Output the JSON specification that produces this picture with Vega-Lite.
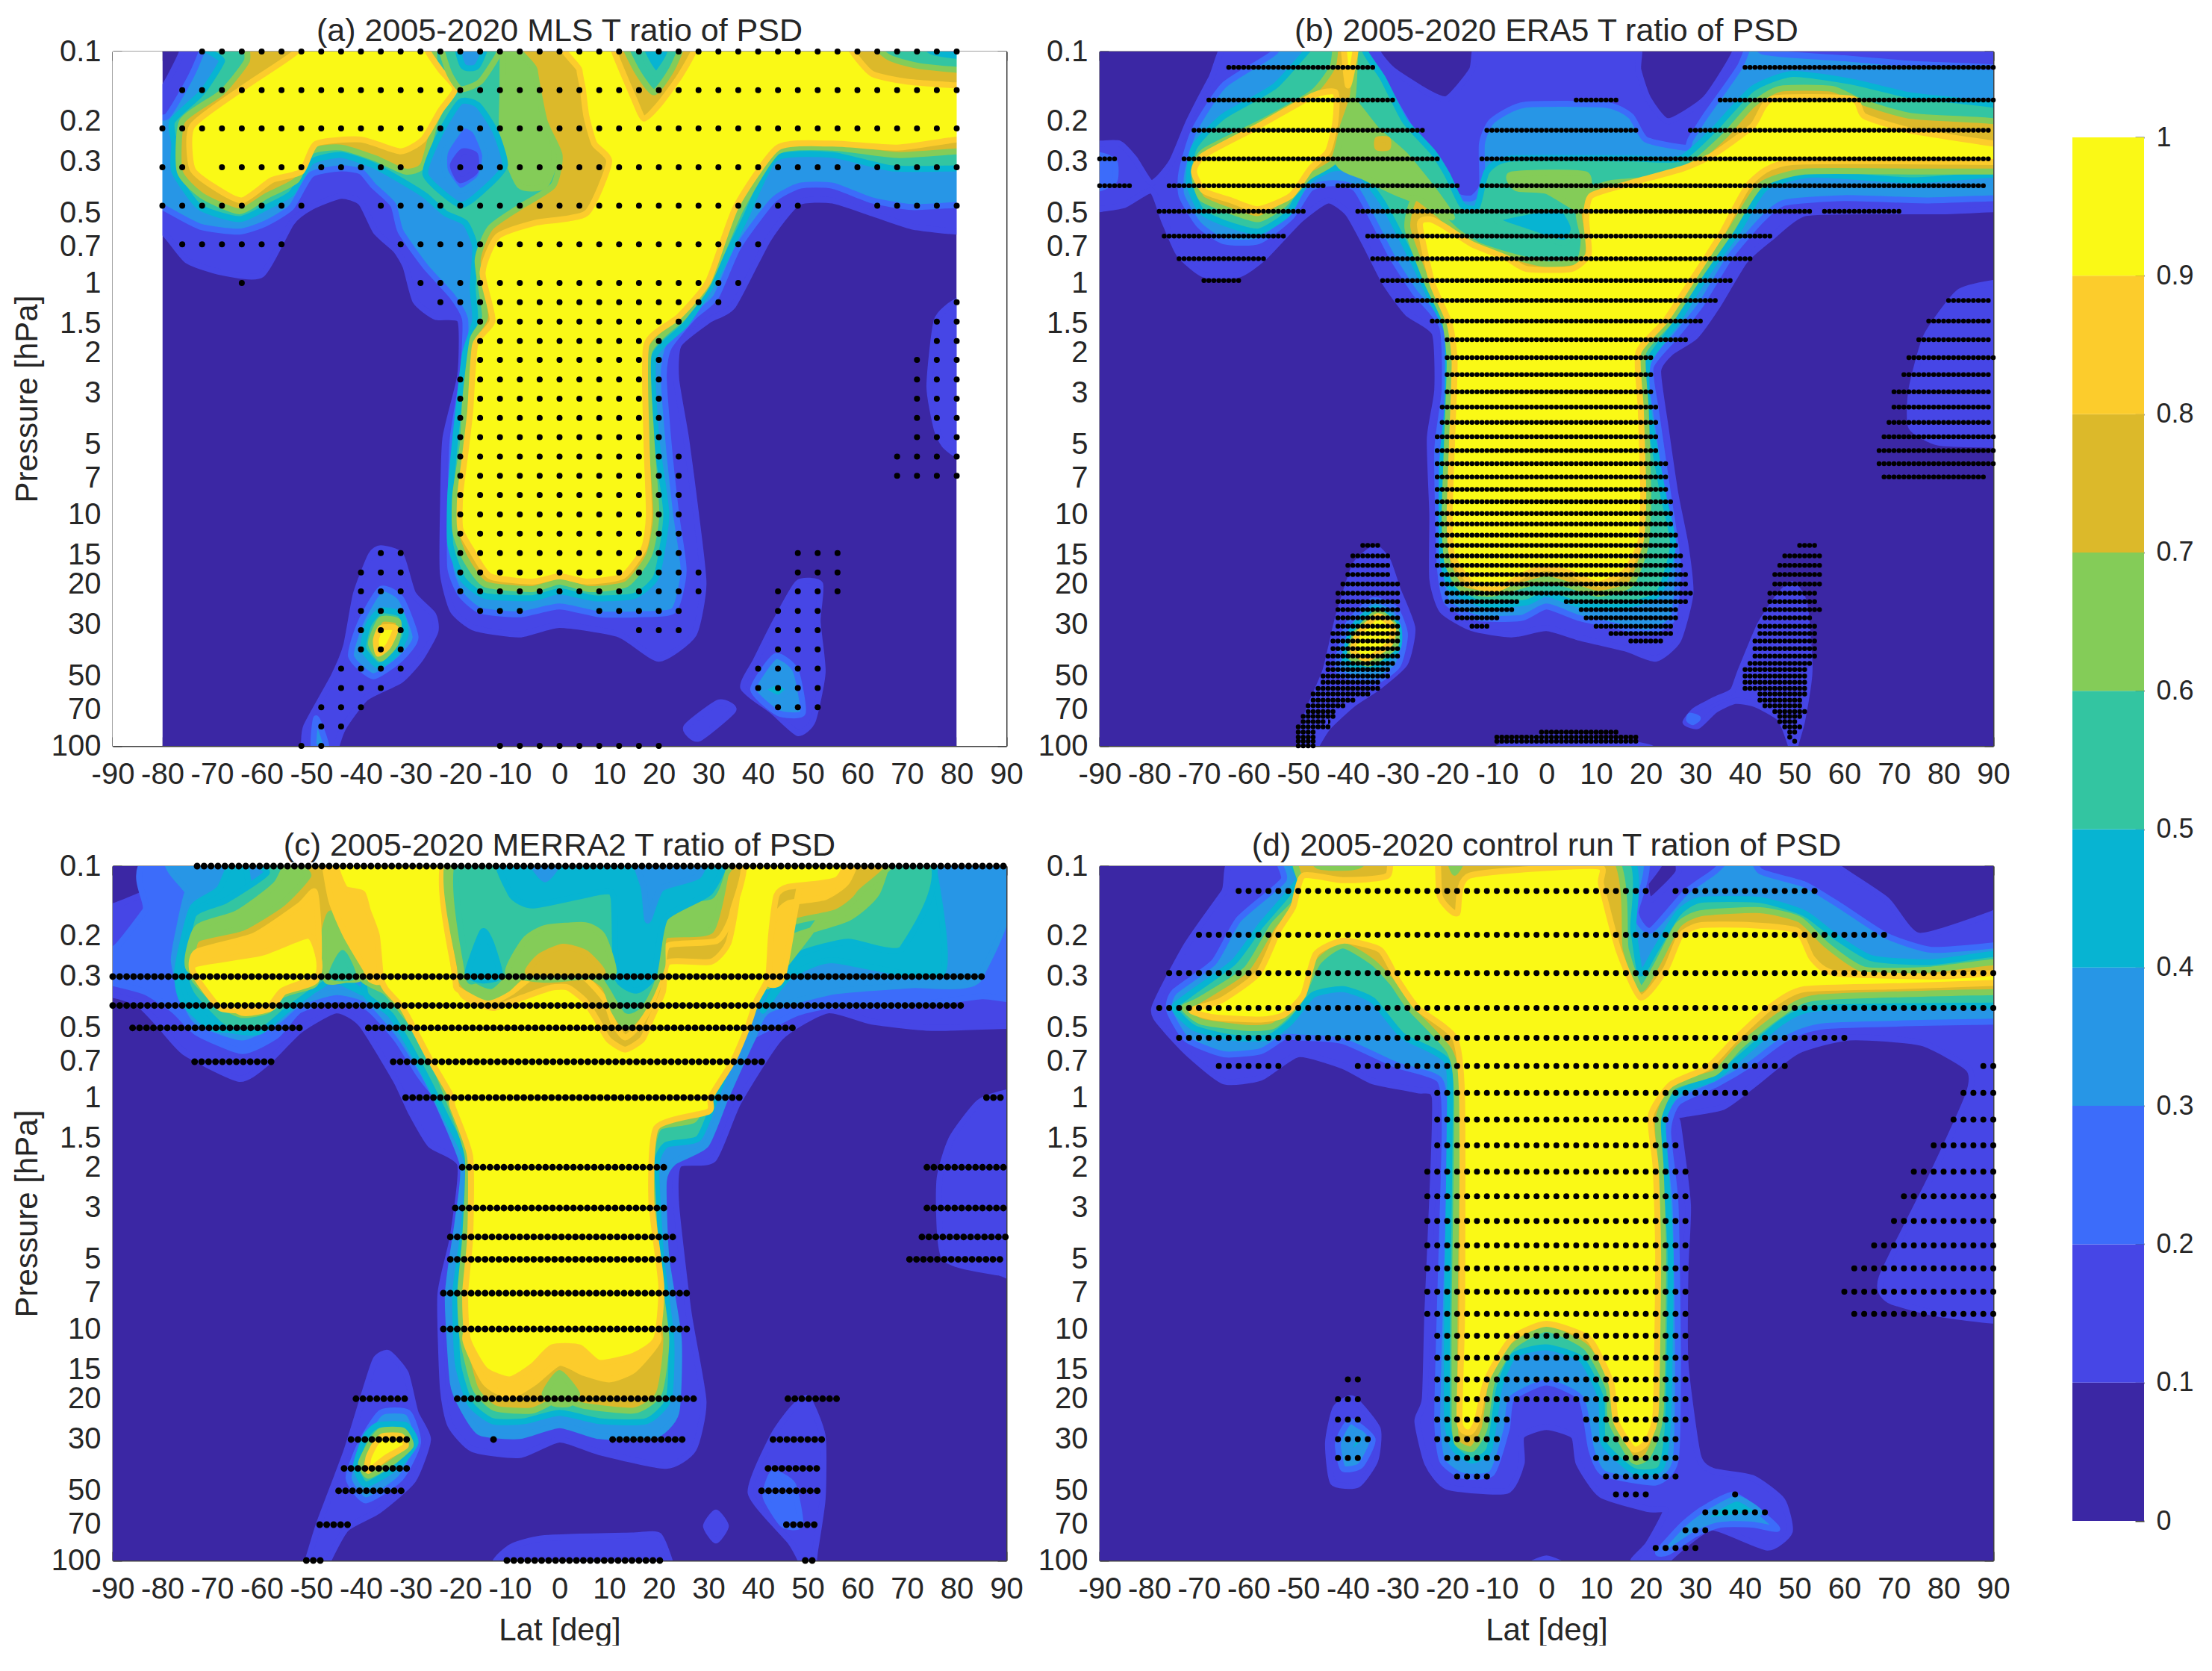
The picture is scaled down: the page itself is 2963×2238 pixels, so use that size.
{"$schema":"https://vega.github.io/schema/vega-lite/v6.json","background":"white","padding":{"left":15,"top":21,"right":0,"bottom":0},
"datasets":{
"base":[{"k":"a","x0":-80,"x1":80,"p0":0.1,"p1":100},{"k":"b","x0":-90,"x1":90,"p0":0.1,"p1":100},{"k":"c","x0":-90,"x1":90,"p0":0.1,"p1":100},{"k":"d","x0":-90,"x1":90,"p0":0.1,"p1":100}],
"mask":[{"x0":-90,"x1":-80,"p0":0.1,"p1":100},{"x0":80,"x1":90,"p0":0.1,"p1":100}],
"colorbar":[{"v0":0,"v1":0.1,"c":0},{"v0":0.1,"v1":0.2,"c":1},{"v0":0.2,"v1":0.3,"c":2},{"v0":0.3,"v1":0.4,"c":3},{"v0":0.4,"v1":0.5,"c":4},{"v0":0.5,"v1":0.6,"c":5},{"v0":0.6,"v1":0.7,"c":6},{"v0":0.7,"v1":0.8,"c":7},{"v0":0.8,"v1":0.9,"c":8},{"v0":0.9,"v1":1,"c":9}],
"contours":[
{"k":"a","id":1,"f":1,"s":1,"pts":[[-74,0.07],[-76,0.1],[-80,0.145],[-85,0.16],[-85,0.6],[-80,0.6],[-75,0.8],[-68,0.9],[-60,0.92],[-54,0.55],[-50,0.47],[-44,0.42],[-40,0.45],[-37,0.6],[-33,0.72],[-31,0.85],[-29,1.2],[-25,1.4],[-20,1.45],[-20,2.5],[-23,4.7],[-23.5,10],[-23.5,18],[-21.5,26],[-17,31],[-8,33],[0,30],[12,33],[20,42],[27,33],[29,20],[27.5,10],[25.5,4.7],[23.5,2.6],[24,1.85],[30,1.45],[35,1.25],[42,0.65],[48,0.45],[55,0.44],[63,0.5],[71,0.57],[80,0.6],[85,0.6],[85,0.07]]},
{"k":"a","id":2,"f":1,"s":1,"pts":[[80,1.2],[76,1.45],[74.5,2.8],[76,4.3],[77.5,5],[80,5.5],[84,5.5],[84,1.2]]},
{"k":"a","id":3,"f":1,"s":1,"pts":[[-36,14],[-32,15],[-29.5,22],[-25.5,27],[-25,32],[-28,42],[-32,52],[-39,62],[-43.5,83],[-45,102],[-45,120],[-52,120],[-51.5,100],[-51,82],[-45.5,50],[-43,37],[-41,22],[-38,15]]},
{"k":"a","id":4,"f":1,"s":1,"pts":[[48,19.8],[52.5,20],[52,29],[53,48],[51,78],[48,88],[43,71],[37,56],[39.5,43],[43.5,29]]},
{"k":"a","id":5,"f":1,"s":1,"pts":[[32,65],[35,70],[28,93],[25.5,83]]},
{"k":"a","id":6,"f":3,"s":2,"pts":[[-70.5,0.08],[-74,0.125],[-79,0.19],[-83,0.2],[-83,0.45],[-80,0.47],[-72.5,0.57],[-64.5,0.6],[-59,0.55],[-54,0.47],[-50,0.34],[-44,0.32],[-40,0.33],[-37.5,0.38],[-33.5,0.46],[-32,0.6],[-27,0.85],[-21.5,1.15],[-19,1.45],[-19.5,2.5],[-21.5,4.7],[-22,10],[-22,17],[-20,22],[-16,26],[-8,27],[0,25],[8,27],[16,27],[23,26],[25,17.5],[23.5,10],[22,5],[21,2.5],[22,1.9],[27,1.4],[31.5,1.15],[36,0.7],[43,0.44],[48.5,0.38],[55,0.38],[63,0.44],[71,0.47],[80,0.46],[84,0.46],[84,0.05],[-70,0.05]]},
{"k":"a","id":7,"f":3,"s":2,"pts":[[-36,21],[-32,23],[-29,34],[-32,42],[-37.5,50],[-42,41],[-40,29]]},
{"k":"a","id":8,"f":3,"s":2,"pts":[[43.5,41],[47.5,47],[49,72],[44,72],[39,57]]},
{"k":"a","id":9,"f":3,"s":2,"pts":[[-49,76],[-47,100],[-49.5,100]]},
{"k":"a","id":10,"f":5,"s":4,"pts":[[-66.5,0.08],[-68,0.11],[-72,0.15],[-78,0.2],[-77.6,0.25],[-77.6,0.33],[-72.5,0.47],[-64.5,0.53],[-59,0.47],[-54,0.41],[-50,0.3],[-44,0.28],[-37.5,0.31],[-32,0.36],[-27,0.42],[-23,0.5],[-19,0.55],[-17,0.7],[-17.5,1.05],[-17,1.45],[-19,2],[-20,3],[-21,4.7],[-22,8.2],[-22,13.5],[-19.5,19],[-15,22.5],[-5.5,23],[0,21.5],[7,23],[15,22.5],[19.5,18.5],[21.5,10],[19.5,4.7],[19,2.1],[25.5,1.5],[31.5,0.95],[37.5,0.52],[43.5,0.29],[55,0.28],[67,0.32],[80,0.32],[85,0.32],[85,0.08]]},
{"k":"a","id":11,"f":5,"s":4,"pts":[[-36,26],[-32,27],[-31,33],[-33,40],[-36.5,45],[-39.5,38],[-38.5,30]]},
{"k":"a","id":12,"f":4,"s":3,"pts":[[44,53],[46,57],[44,62],[41,57]]},
{"k":"a","id":13,"f":6,"s":6,"pts":[[-11,0.08],[-11.5,0.15],[-11.5,0.25],[-8,0.38],[-3,0.38],[-1,0.28],[-4,0.12],[-5,0.08]]},
{"k":"a","id":14,"f":7,"s":6,"pts":[[-61,0.08],[-63,0.11],[-68,0.15],[-76,0.2],[-76.5,0.33],[-72,0.42],[-64.5,0.49],[-59,0.42],[-53,0.36],[-50,0.27],[-44,0.26],[-37,0.29],[-31,0.33],[-27.5,0.31],[-25,0.2],[-22,0.145],[-25,0.12],[-28,0.08]]},
{"k":"a","id":15,"f":7,"s":6,"pts":[[-5.5,0.08],[-5,0.12],[-3,0.2],[0,0.28],[-1.3,0.38],[-8,0.47],[-14,0.58],[-16.5,0.8],[-15,1.4],[-17.5,1.75],[-19,3.2],[-19.5,5],[-21,8.2],[-21,11.8],[-19,15.5],[-15,20],[-5.5,21],[0,19.5],[6,21],[13.5,20],[18,15],[19.5,10],[18.5,4.7],[18,2],[25,1.4],[30,1],[36.5,0.48],[44,0.27],[55,0.26],[68,0.28],[80,0.27],[85,0.27],[85,0.08]]},
{"k":"a","id":16,"f":7,"s":6,"pts":[[-36,28.5],[-32.5,29],[-33,36],[-36,42],[-38,36]]},
{"k":"a","id":17,"f":9,"s":8,"pts":[[-36,31],[-33,31],[-34.5,37],[-36.5,40],[-37,35]]},
{"k":"a","id":18,"f":9,"s":8,"pts":[[-52,0.08],[-53,0.1],[-63,0.14],[-74,0.21],[-74,0.32],[-70,0.38],[-64,0.44],[-58,0.36],[-52,0.33],[-49,0.25],[-40,0.24],[-32,0.27],[-27.5,0.24],[-24,0.18],[-21,0.145],[-24,0.12],[-26.5,0.1],[-28,0.08]]},
{"k":"a","id":19,"f":9,"s":8,"pts":[[3.4,0.08],[4,0.12],[4.7,0.145],[5.4,0.19],[7,0.25],[10,0.3],[5.4,0.5],[-5,0.55],[-12.5,0.63],[-15.5,0.9],[-13.5,1.45],[-17,1.85],[-18,3.6],[-19,5.5],[-20,8.2],[-20,11.5],[-17.5,14.5],[-14,18.5],[-5.5,19.5],[0,18.5],[5.5,19.5],[12.7,18.5],[17,14],[18,10],[17.5,4.7],[17.5,1.85],[24,1.4],[30,0.98],[35.5,0.47],[44,0.26],[55,0.25],[68,0.26],[80,0.24],[85,0.24],[85,0.08]]},
{"k":"a","id":20,"f":5,"s":6,"pts":[[-24,0.08],[-22.5,0.12],[-20,0.145],[-16,0.135],[-12,0.1],[-11,0.08]]},
{"k":"a","id":21,"f":3,"s":4,"pts":[[-21,0.08],[-19.5,0.115],[-16.5,0.115],[-14,0.08]]},
{"k":"a","id":22,"f":3,"s":4,"pts":[[-20,0.165],[-24,0.225],[-27,0.34],[-20,0.46],[-15,0.39],[-11,0.31],[-13,0.22],[-16.5,0.17]]},
{"k":"a","id":23,"f":2,"s":3,"pts":[[-19.5,0.21],[-23,0.27],[-23,0.33],[-20,0.4],[-16,0.35],[-15,0.28],[-17,0.22]]},
{"k":"a","id":24,"f":1,"s":1,"pts":[[-19.5,0.27],[-21.5,0.31],[-20,0.36],[-17,0.33],[-17,0.28]]},
{"k":"a","id":25,"f":7,"s":8,"pts":[[10,0.08],[11,0.1],[15,0.16],[17,0.195],[20,0.17],[24,0.13],[27,0.1],[27.5,0.08]]},
{"k":"a","id":26,"f":5,"s":6,"pts":[[12.5,0.08],[15,0.115],[19,0.15],[23,0.115],[25,0.08]]},
{"k":"a","id":27,"f":4,"s":5,"pts":[[15,0.08],[17.5,0.11],[19.5,0.125],[22,0.105],[23.5,0.08]]},
{"k":"a","id":28,"f":7,"s":8,"pts":[[57.5,0.08],[59,0.1],[63,0.125],[70,0.135],[80,0.14],[85,0.14],[85,0.08]]},
{"k":"a","id":29,"f":5,"s":6,"pts":[[62,0.08],[66,0.105],[72,0.115],[80,0.12],[85,0.12],[85,0.08]]},
{"k":"a","id":30,"f":3,"s":4,"pts":[[72,0.08],[75,0.1],[85,0.105],[85,0.08]]},

{"k":"b","id":31,"f":1,"s":1,"pts":[[-62,0.08],[-67.5,0.13],[-72,0.2],[-75.5,0.3],[-79.5,0.37],[-83,0.29],[-86,0.25],[-90,0.25],[-95,0.25],[-95,0.5],[-90,0.48],[-85,0.46],[-79.5,0.4],[-77,0.54],[-74,0.75],[-69,0.92],[-62,0.92],[-57,0.78],[-49.5,0.53],[-44,0.44],[-40,0.5],[-36.5,0.68],[-32.5,1],[-28,1.35],[-22.5,1.65],[-22,2.9],[-23.5,4.7],[-23,10],[-23,19],[-21,26],[-15,31],[-7,33],[0,31],[6.5,34],[16,38],[22,42],[26.5,35],[29,22],[28,13.5],[26,8.2],[24,4.2],[22.5,2.4],[25,2],[30,1.7],[34.5,1.25],[40,0.8],[45.5,0.63],[52,0.5],[67,0.49],[80,0.49],[90,0.48],[95,0.48],[95,0.08],[37,0.08],[38,0.1],[32,0.16],[24.5,0.2],[20.5,0.16],[18.5,0.12],[17,0.08],[-12,0.08],[-15,0.12],[-20,0.16],[-24,0.15],[-31,0.12],[-34,0.1],[-34,0.08]]},
{"k":"b","id":32,"f":1,"s":1,"pts":[[-34.5,14],[-32,15.8],[-30,21],[-27,31],[-28.5,44],[-34,56],[-39,66],[-44,83],[-46.5,102],[-46.5,120],[-51,120],[-50,102],[-48,71],[-44.5,47],[-42,28],[-38.5,16.5]]},
{"k":"b","id":33,"f":1,"s":1,"pts":[[49.5,20],[52,24.5],[53,47],[51.5,78],[50,102],[50,115],[49,96],[47,76],[42,66],[38,64],[34,70],[30.5,82],[28,79],[30,70],[34,63],[37.5,58],[39,48],[43,30],[46.5,23]]},
{"k":"b","id":34,"f":1,"s":1,"pts":[[-10,110],[-8,98],[-2,92],[8,92],[16,97],[21,102],[21,110]]},
{"k":"b","id":35,"f":1,"s":1,"pts":[[90,1],[83,1.1],[76.5,1.7],[73.5,2.9],[73.5,4.2],[79,4.9],[90,5],[95,5],[95,1]]},
{"k":"b","id":36,"f":2,"s":2,"pts":[[-95,0.29],[-90,0.28],[-87,0.3],[-87,0.36],[-90,0.39],[-95,0.39]]},
{"k":"b","id":37,"f":3,"s":2,"pts":[[-55,0.08],[-54.6,0.1],[-65,0.14],[-71,0.22],[-73.5,0.33],[-73.5,0.42],[-70,0.56],[-65,0.66],[-58,0.66],[-51.5,0.52],[-47.5,0.39],[-43,0.37],[-38.5,0.39],[-35,0.53],[-31,0.78],[-26.5,1.1],[-21,1.55],[-20.5,2.9],[-22,5.3],[-21.5,16.5],[-20,24],[-14,28],[-5,28],[0,25],[6.5,28],[14.5,30.5],[20.5,32.5],[25.5,28],[26.5,16.5],[24.5,8.2],[22,3.5],[21,2.3],[26,1.7],[31,1.25],[37,0.77],[43.5,0.53],[48,0.45],[60,0.43],[76.5,0.44],[90,0.43],[95,0.43],[95,0.12],[90,0.117],[73.5,0.113],[60,0.107],[43.5,0.1],[42,0.08],[39,0.116],[32,0.19],[29,0.24],[28,0.26],[20,0.24],[17,0.19],[12,0.17],[-4.5,0.17],[-11,0.2],[-13,0.25],[-13,0.38],[-15,0.43],[-18,0.42],[-21,0.33],[-26,0.24],[-31,0.16],[-36.5,0.12],[-38.5,0.1],[-38.5,0.08]]},
{"k":"b","id":38,"f":3,"s":2,"pts":[[-35,23.5],[-30.5,25.5],[-28.5,33],[-30,45],[-35,53],[-42,47],[-40,30]]},
{"k":"b","id":39,"f":3,"s":2,"pts":[[29,74],[30.5,76],[29.5,79],[28.7,77]]},
{"k":"b","id":40,"f":5,"s":4,"pts":[[-44,0.08],[-54.5,0.14],[-65,0.19],[-71,0.26],[-72,0.37],[-69.5,0.49],[-65,0.55],[-58,0.6],[-52,0.5],[-48.5,0.37],[-43,0.32],[-38,0.33],[-33,0.45],[-28,0.72],[-23,1.2],[-20,1.65],[-20,3.5],[-21,6],[-21,15],[-19,21],[-12.5,24.5],[-4,24],[0,22],[6.5,24.5],[14.5,25],[22.5,22],[25.5,13.5],[23.5,8.2],[20.5,3.5],[20.5,2.2],[26.5,1.45],[33,0.87],[38.5,0.6],[44,0.39],[53.5,0.34],[73.5,0.36],[90,0.34],[95,0.34],[95,0.2],[90,0.17],[73.5,0.155],[61.5,0.135],[49.5,0.125],[41.5,0.145],[33.5,0.22],[27,0.29],[17,0.29],[-7,0.29],[-12,0.33],[-14,0.47],[-17,0.46],[-20,0.34],[-23,0.27],[-28.5,0.2],[-33,0.13],[-36.5,0.1],[-36.5,0.08]]},
{"k":"b","id":41,"f":5,"s":4,"pts":[[-34.5,25.5],[-30,30],[-30,38],[-35,46],[-40.5,43],[-39,31]]},
{"k":"b","id":42,"f":6,"s":6,"pts":[[-41,0.15],[-34,0.22],[-28.5,0.28],[-23,0.39],[-19,0.52],[-24,0.46],[-30,0.41],[-36.5,0.35],[-42,0.3]]},
{"k":"b","id":43,"f":6,"s":6,"pts":[[-7,0.34],[8,0.34],[7,0.48],[0,0.4],[-6,0.39]]},
{"k":"b","id":44,"f":4,"s":5,"pts":[[-10,0.53],[2.5,0.47],[5.5,0.58],[3.5,0.67],[-4,0.6]]},
{"k":"b","id":45,"f":7,"s":6,"pts":[[-42,0.08],[-43,0.115],[-47,0.15],[-57,0.2],[-69,0.27],[-71,0.33],[-69.5,0.43],[-63.5,0.49],[-58,0.53],[-53,0.46],[-48,0.35],[-43,0.3],[-41,0.21],[-39,0.155],[-38.5,0.1],[-38,0.08]]},
{"k":"b","id":46,"f":7,"s":6,"pts":[[-26.5,0.43],[-28,0.58],[-24,1],[-20.5,1.45],[-19.5,2.2],[-20,4.7],[-20.5,10],[-20,16],[-17,21],[-11,22],[-4,20],[0,19],[4,20],[10.5,22],[17,20],[20,13.5],[20.5,8.2],[20,3.5],[19.5,2],[25,1.45],[31,0.92],[37,0.6],[43,0.38],[52,0.33],[73.5,0.33],[90,0.33],[95,0.33],[95,0.22],[90,0.2],[73.5,0.19],[63.5,0.165],[57.5,0.145],[47,0.145],[41.5,0.17],[36,0.23],[30,0.3],[24,0.35],[13,0.37],[9,0.4],[6.5,0.5],[7.5,0.65],[6.5,0.8],[0,0.83],[-6.5,0.77],[-13.5,0.69],[-18,0.6],[-22,0.5]]},
{"k":"b","id":47,"f":7,"s":6,"pts":[[-34,26.5],[-30.5,30.5],[-30.5,37],[-35.5,44],[-39.5,41],[-38.5,33]]},
{"k":"b","id":48,"f":7,"s":7,"pts":[[-34,0.24],[-32,0.24],[-32,0.26],[-34,0.26]]},
{"k":"b","id":49,"f":9,"s":8,"pts":[[-42.5,0.15],[-47,0.155],[-58,0.21],[-69,0.28],[-71,0.33],[-69,0.4],[-63.5,0.44],[-58,0.48],[-51.5,0.42],[-47.5,0.32],[-44,0.27],[-42.5,0.2]]},
{"k":"b","id":50,"f":9,"s":8,"pts":[[-41,0.08],[-40,0.14],[-38.5,0.1],[-38.5,0.08]]},
{"k":"b","id":51,"f":9,"s":8,"pts":[[-25.5,0.56],[-23,1],[-19.5,1.5],[-18.5,2.2],[-19,4.7],[-19.5,10],[-19,15],[-15,20],[-10,21],[-4,18],[0,17],[5,18],[10.5,20],[16,17.5],[19,13],[19.5,8.2],[19,3.5],[18.5,2],[24,1.45],[30,0.92],[35.5,0.6],[41,0.37],[49.5,0.3],[90,0.3],[95,0.3],[95,0.26],[90,0.25],[73.5,0.22],[64,0.19],[61.5,0.16],[45.5,0.16],[41.5,0.21],[33.5,0.28],[27.5,0.32],[17,0.37],[9,0.42],[8,0.53],[8.5,0.75],[5,0.87],[-4,0.87],[-8,0.78],[-15,0.68],[-20.5,0.57],[-23.5,0.53]]},
{"k":"b","id":52,"f":9,"s":8,"pts":[[-34,27.5],[-31,30.5],[-31.5,36],[-36,42],[-39,39],[-38,33]]},

{"k":"c","id":53,"f":1,"s":1,"pts":[[-74,0.08],[-73.7,0.1],[-79,0.119],[-89.5,0.148],[-95,0.155],[-95,0.35],[-90,0.36],[-85,0.39],[-80.6,0.485],[-75.4,0.64],[-64.5,0.83],[-59,0.71],[-52.2,0.51],[-45,0.42],[-40,0.48],[-33,0.84],[-30,1.15],[-26,1.6],[-20,1.95],[-21.5,4],[-24,7.1],[-23.5,18],[-22,26],[-17.5,33],[-8,35],[0,30],[8,34],[21.5,39],[27,33],[29,20.5],[26,8.5],[23.5,2.9],[24,1.95],[31,1.85],[36,1.05],[44.5,0.55],[54,0.42],[63,0.47],[75,0.5],[90,0.49],[95,0.49],[95,0.08]]},
{"k":"c","id":54,"f":1,"s":1,"pts":[[-34.5,12.7],[-31,15.5],[-29,23],[-26.5,30],[-29.5,45],[-36.5,61],[-43,73],[-47,105],[-47,120],[-52,120],[-51,105],[-48.5,70],[-43,34],[-39,18],[-37,13.5]]},
{"k":"c","id":55,"f":1,"s":1,"pts":[[50,20],[53,29],[53,54],[51.5,90],[51,105],[48.5,115],[49,105],[46.5,83],[38.5,51],[43,29],[47,22]]},
{"k":"c","id":56,"f":1,"s":1,"pts":[[31.5,62],[33.5,71],[31.5,82],[29.5,71]]},
{"k":"c","id":57,"f":1,"s":1,"pts":[[-12,110],[-10,88],[-3,80],[14.5,78],[20,78],[22.5,105],[22.5,115]]},
{"k":"c","id":58,"f":1,"s":1,"pts":[[90,0.95],[84.5,1.05],[79,1.5],[76.5,2.3],[77.5,4.9],[88.5,5.7],[95,5.7],[95,0.95]]},
{"k":"c","id":59,"f":2,"s":2,"pts":[[-73.7,0.08],[-83.5,0.156],[-89.5,0.226],[-95,0.24],[-95,0.31],[-90,0.32],[-83.4,0.35],[-77.7,0.42],[-73,0.525],[-63.9,0.63],[-57,0.54],[-52.4,0.42],[-45,0.376],[-38.6,0.41],[-32.8,0.56],[-28.2,0.8],[-24.7,0.97],[-18,0.97],[30,0.97],[36,0.6],[42,0.5],[48,0.43],[55,0.4],[70,0.4],[85,0.365],[95,0.35],[95,0.08]]},
{"k":"c","id":61,"f":3,"s":3,"pts":[[-71,0.08],[-75,0.131],[-76.5,0.18],[-77.7,0.255],[-76,0.36],[-73,0.47],[-64,0.55],[-57,0.47],[-52.4,0.39],[-45,0.35],[-38.6,0.38],[-32.8,0.52],[-28.2,0.74],[-25.3,0.97],[-19.5,1.95],[-20.5,3.4],[-22.5,7.1],[-21.5,17],[-19.5,22],[-16,28],[-8,29],[0,26],[8,29],[19,29],[23.5,23],[24,11],[21.5,4.9],[21,2.3],[23,1.9],[29.5,1.6],[33.5,1],[39,0.55],[42,0.42],[55.3,0.348],[70.8,0.327],[84.6,0.304],[83.5,0.08]]},
{"k":"c","id":62,"f":3,"s":2,"pts":[[-36,23],[-30.5,23],[-28.5,31],[-32,44],[-39,55],[-42.5,44],[-40,31]]},
{"k":"c","id":63,"f":2,"s":2,"pts":[[43,42],[47,47],[48.5,70],[45,70],[41.5,53]]},
{"k":"c","id":64,"f":4,"s":4,"pts":[[-64,0.08],[-68.5,0.125],[-74,0.152],[-77,0.28],[-76,0.38],[-70,0.5],[-60,0.5],[-54,0.35],[-45,0.3],[-40,0.35],[-60,0.2]]},
{"k":"c","id":60,"f":4,"s":4,"pts":[[74.3,0.08],[77.1,0.289],[54.7,0.255],[46,0.304],[41,0.42],[50,0.2],[70,0.1]]},
{"k":"c","id":65,"f":5,"s":4,"pts":[[-57.5,0.08],[-59,0.107],[-67.3,0.141],[-73.7,0.162],[-75.5,0.28],[-74,0.36],[-67.5,0.5],[-60.5,0.52],[-55,0.42],[-50,0.35],[-46.5,0.31],[-44.5,0.24],[-40,0.25],[-39,0.36],[-34,0.44],[-28.5,0.7],[-23,1.2],[-18.5,1.95],[-19.5,4],[-21,7],[-20.5,14],[-18,21],[-13.5,25],[-7,25],[0,23],[8,25],[17.5,25],[22,20],[22.5,11],[20.5,4.9],[19.5,2],[21.5,1.6],[28,1.5],[31.5,1],[36,0.55],[41,0.36],[43.8,0.289],[49,0.237],[58.1,0.212],[69.1,0.226],[69.9,0.08]]},
{"k":"c","id":66,"f":5,"s":4,"pts":[[-36.5,26],[-31,26],[-29,31],[-32.5,39],[-39,47],[-41,39],[-39,29]]},
{"k":"c","id":89,"f":6,"s":6,"pts":[[-53,0.08],[-57,0.119],[-65,0.16],[-73,0.185],[-74.5,0.28],[-60,0.3],[-50,0.1]]},
{"k":"c","id":90,"f":6,"s":6,"pts":[[66.8,0.08],[63.9,0.131],[58.1,0.168],[46.6,0.204],[43.8,0.269],[42,0.33],[50,0.2],[60,0.1]]},
{"k":"c","id":96,"f":6,"s":6,"pts":[[-47.5,0.2],[-46,0.17],[-42,0.2],[-40,0.3],[-43,0.31],[-47,0.31]]},
{"k":"c","id":97,"f":5,"s":5,"pts":[[-46,0.3],[-43.7,0.237],[-41.5,0.3]]},
{"k":"c","id":67,"f":7,"s":6,"pts":[[-49,0.08],[-50.6,0.11],[-55.8,0.145],[-63.9,0.185],[-73,0.207],[-74,0.27],[-73.5,0.31],[-69,0.39],[-64,0.44],[-58.7,0.42],[-55.8,0.36],[-50,0.33],[-48.9,0.31],[-48,0.22],[-46,0.16],[-41,0.24],[-39.5,0.31],[-35,0.35],[-31.5,0.43],[-27.6,0.56],[-25,0.74],[-22.5,1],[-18.5,1.8],[-19,4],[-20,7],[-19.5,11],[-17,18],[-13,22],[-5.5,22.5],[0,20],[5,21.5],[15,22.5],[20,19],[21.5,11],[19.5,4.9],[18.5,1.9],[20,1.35],[27,1.25],[30,0.95],[35,0.55],[41.5,0.31],[43.8,0.215],[46.6,0.176],[55.8,0.158],[60.4,0.131],[63.3,0.08]]},
{"k":"c","id":68,"f":7,"s":6,"pts":[[-36,27.5],[-31.5,27.5],[-30,32],[-34,38],[-38.5,43],[-40,38],[-38,31]]},
{"k":"c","id":91,"f":8,"s":8,"pts":[[-49.3,0.129],[-52.4,0.148],[-61.6,0.2],[-73,0.234],[-74,0.28],[-71,0.34],[-64,0.43],[-58,0.41],[-55.5,0.35],[-49,0.31],[-48.5,0.2]]},
{"k":"c","id":92,"f":8,"s":8,"pts":[[-47.8,0.08],[-46,0.14],[-43,0.2],[-39,0.28],[-38,0.31],[-36,0.31],[-36.5,0.2],[-38.6,0.14],[-43,0.115],[-45,0.08]]},
{"k":"c","id":93,"f":8,"s":8,"pts":[[60.4,0.08],[58,0.116],[53.5,0.136],[46,0.145],[43.2,0.172],[41.5,0.31],[45,0.3],[50,0.09]]},
{"k":"c","id":94,"f":8,"s":8,"pts":[[-19,11],[-15,17],[-10,19.5],[-5,17],[0,14],[5,15.5],[10,16.5],[15,15],[20,11],[15,9],[-15,9]]},
{"k":"c","id":95,"f":6,"s":6,"pts":[[0,15.5],[-3,19],[-1,21],[2,21],[3.5,19]]},
{"k":"c","id":98,"f":9,"s":8,"pts":[[-73.3,0.265],[-73.3,0.3],[-68.5,0.409],[-63.9,0.42],[-58.7,0.409],[-55.8,0.345],[-48.9,0.3],[-48.5,0.25],[-50.6,0.2],[-60,0.237]]},
{"k":"c","id":69,"f":9,"s":8,"pts":[[-45,0.08],[-44.9,0.102],[-43.2,0.125],[-39.7,0.131],[-38.6,0.156],[-36.8,0.2],[-36,0.3],[-35,0.34],[-31.6,0.41],[-29,0.52],[-26,0.69],[-22,0.97],[-21.5,1.1],[-18,1.8],[-18,4],[-19,7],[-18.5,11],[-15,15],[-10,16.5],[-5.5,14.5],[-1.5,12],[4,12],[8,14],[15,13],[19.5,11],[20.5,6.5],[18.5,2.8],[19.5,1.35],[30,1.15],[30.5,0.99],[35,0.69],[38,0.487],[39.7,0.38],[42,0.304],[42.6,0.2],[43.7,0.134],[46,0.123],[56,0.114],[57.6,0.08],[36,0.08],[35.7,0.138],[34,0.215],[30.5,0.259],[21.9,0.26],[20.8,0.35],[18.4,0.46],[16.7,0.56],[13.2,0.62],[9.8,0.56],[7.5,0.46],[5,0.38],[1.7,0.335],[-1.7,0.335],[-7.5,0.37],[-13.2,0.41],[-16.7,0.39],[-19.5,0.36],[-21,0.3],[-22,0.2],[-23,0.08]]},
{"k":"c","id":70,"f":9,"s":8,"pts":[[-35.5,29],[-32,29],[-31,32],[-35,36],[-38.5,41],[-38.5,36],[-37,31]]},
{"k":"c","id":71,"f":7,"s":8,"pts":[[-21.3,0.08],[-21,0.3],[-20.1,0.345],[-14.4,0.39],[-9.8,0.352],[-5.2,0.297],[0.6,0.275],[5.2,0.304],[9.2,0.379],[10.9,0.475],[13.2,0.55],[16.1,0.486],[18.4,0.4],[20.7,0.289],[21.9,0.22],[31.7,0.21],[34.9,0.156],[34.5,0.08]]},
{"k":"c","id":72,"f":6,"s":6,"pts":[[-20.5,0.08],[-20,0.28],[-19,0.33],[-14.5,0.37],[-10.5,0.34],[-7,0.29],[-2,0.27],[4,0.28],[9,0.33],[10.9,0.42],[13.4,0.5],[16,0.44],[18.4,0.36],[20.7,0.27],[21.3,0.2],[30.5,0.19],[33.4,0.11],[33.7,0.08]]},
{"k":"c","id":73,"f":5,"s":5,"pts":[[-18.5,0.08],[-18.5,0.29],[-16.7,0.312],[-13.8,0.33],[-10.4,0.282],[-5,0.25],[1,0.24],[7,0.26],[10.5,0.33],[13.5,0.42],[16,0.4],[18.4,0.32],[20,0.22],[20.7,0.145],[30.5,0.135],[33,0.1],[33.2,0.08]]},
{"k":"c","id":74,"f":4,"s":4,"pts":[[-11,0.08],[-9.9,0.131],[-5.2,0.148],[8.6,0.129],[10.9,0.138],[11.5,0.3],[15.5,0.345],[19,0.297],[21.3,0.168],[30.5,0.128],[31.7,0.08]]},
{"k":"c","id":75,"f":3,"s":3,"pts":[[-7.5,0.08],[-2.9,0.114],[1.7,0.08]]},
{"k":"c","id":99,"f":3,"s":3,"pts":[[15,0.08],[17,0.125],[17.8,0.172],[20.5,0.125],[28,0.11],[29,0.08]]},
{"k":"c","id":100,"f":2,"s":2,"pts":[[18,0.08],[20,0.095],[25,0.08]]},
{"k":"c","id":101,"f":4,"s":4,"pts":[[-15.5,0.192],[-18.5,0.29],[-15.5,0.312],[-12,0.297],[-13.8,0.215]]},
{"k":"c","id":102,"f":6,"s":6,"pts":[[-10.4,0.289],[-7,0.209],[-2.9,0.185],[5.2,0.18],[8.7,0.2],[10.9,0.289],[5,0.3],[-3,0.31]]},
{"k":"c","id":103,"f":7,"s":7,"pts":[[-6.3,0.289],[-4,0.246],[0.6,0.223],[5.2,0.237],[8.7,0.289],[2,0.29]]},

{"k":"d","id":76,"f":1,"s":1,"pts":[[-58,0.08],[-65,0.13],[-72.5,0.22],[-79,0.41],[-77,0.5],[-72,0.65],[-65,0.85],[-57.5,0.82],[-50,0.65],[-41,0.73],[-35,0.85],[-26,0.93],[-22.5,1],[-23,2.7],[-24,8.6],[-24.5,20],[-26,25],[-24,38],[-20,48],[-8,50],[-5,38],[-5,29],[0,26.5],[5.5,29],[6.5,38],[11,52],[20.5,60],[24,61],[20.5,85],[17.5,100],[17.5,115],[23,105],[27.5,87],[33.5,72],[44.5,88],[49,75],[47.5,55],[41.5,44],[33.5,41],[30.5,35],[28,14],[28,5.5],[28.5,2.9],[26.5,1.3],[26,1.2],[35.5,1.1],[42,0.87],[50.5,0.63],[61,0.55],[75.5,0.58],[85,0.75],[85,0.97],[77.5,2.2],[67.5,6],[69,7.5],[79,8.6],[90,9.2],[95,9.2],[95,0.14],[90,0.16],[75,0.2],[68.5,0.14],[58.5,0.1],[55,0.08],[28,0.08],[26.5,0.107],[21,0.14],[20,0.12],[20,0.08]]},
{"k":"d","id":77,"f":1,"s":1,"pts":[[-39,20],[-34,27],[-34.5,37],[-38,47],[-43,46],[-44,31],[-42.5,22]]},
{"k":"d","id":78,"f":1,"s":1,"pts":[[-5,110],[0,98],[5,110]]},
{"k":"d","id":79,"f":3,"s":2,"pts":[[-50.5,0.08],[-53,0.115],[-62,0.17],[-67,0.26],[-75,0.35],[-76,0.42],[-72.5,0.56],[-65,0.65],[-57.5,0.63],[-53,0.55],[-50,0.55],[-41,0.57],[-30.5,0.72],[-21.5,0.84],[-20.5,1.4],[-21.5,8.6],[-22,25],[-21,37],[-17,43],[-11,42],[-8,27],[-7,20],[0,17],[7,20],[9,33],[11.5,42],[22,46],[26,37],[26.5,14],[26,2.9],[24.5,1.4],[26.5,1.05],[34.5,0.87],[41,0.72],[48,0.56],[56.5,0.49],[90,0.47],[95,0.47],[95,0.21],[90,0.22],[77.5,0.23],[68.5,0.2],[59.5,0.15],[52,0.12],[43,0.105],[40,0.08],[34,0.105],[28,0.13],[21,0.19],[18,0.16],[17,0.08]]},
{"k":"d","id":80,"f":3,"s":2,"pts":[[-39.5,25],[-35,30],[-37.5,39],[-41,40],[-42,31]]},
{"k":"d","id":81,"f":3,"s":2,"pts":[[37.5,52],[43,62],[46.5,73],[41.5,70],[35,70],[30,77],[24.5,92],[22.5,92],[27.5,70],[31.5,60]]},
{"k":"d","id":82,"f":4,"s":3,"pts":[[-38,28],[-36.5,30],[-39,34],[-40,34]]},
{"k":"d","id":83,"f":4,"s":3,"pts":[[38.5,54],[43,62],[38,65],[31.5,67],[34,60]]},
{"k":"d","id":84,"f":5,"s":4,"pts":[[-49,0.08],[-50,0.115],[-57.5,0.18],[-63,0.26],[-72,0.36],[-75,0.41],[-71,0.5],[-63.5,0.55],[-56,0.55],[-51.5,0.47],[-47,0.36],[-41,0.34],[-35,0.38],[-29,0.54],[-20,0.7],[-19.5,1.4],[-20,8.6],[-20,25],[-18.5,33],[-15,37],[-11.5,33],[-9.5,18],[-6.5,13],[0,12],[7,13.5],[11,20],[11.5,31],[17.5,41],[23,40],[24.5,25],[25,4.9],[24,2],[23.5,1.25],[26.5,0.95],[34,0.82],[40.5,0.63],[47.5,0.47],[55,0.41],[90,0.4],[95,0.4],[95,0.25],[90,0.24],[77.5,0.26],[65.5,0.25],[58,0.2],[52,0.16],[43,0.14],[31,0.14],[26.5,0.16],[22,0.23],[19,0.29],[17.5,0.19],[14,0.08]]},
{"k":"d","id":85,"f":7,"s":6,"pts":[[-48,0.08],[-49,0.13],[-55,0.18],[-60.5,0.28],[-70,0.38],[-73,0.41],[-69.5,0.47],[-60.5,0.5],[-55,0.49],[-50,0.39],[-46,0.26],[-41,0.22],[-35,0.26],[-31,0.32],[-27.5,0.41],[-19.5,0.63],[-18,1],[-18.5,8.6],[-18.5,24],[-18,31],[-15,33],[-12.5,27],[-11,17],[-7,12],[0,10],[8,12],[12.5,18],[13,25],[17.5,37],[20.5,35],[23,23],[23.5,4.9],[23,2],[22.5,1.25],[25.5,0.9],[34,0.78],[39,0.6],[47,0.44],[54.5,0.37],[90,0.35],[95,0.35],[95,0.27],[90,0.26],[77.5,0.28],[64,0.28],[56.5,0.22],[51,0.17],[43,0.155],[31,0.16],[26.5,0.18],[22.5,0.26],[19,0.34],[16,0.23],[11,0.08]]},
{"k":"d","id":86,"f":9,"s":8,"pts":[[-49,0.11],[-51,0.15],[-54,0.19],[-58,0.29],[-65.5,0.38],[-71.5,0.42],[-67,0.45],[-57.5,0.46],[-53,0.44],[-49,0.36],[-46.5,0.24],[-41,0.21],[-33.5,0.23],[-30,0.31],[-26,0.41],[-18.5,0.55],[-17,1],[-17,8.6],[-17.5,25],[-15.5,28],[-14,25],[-12,16.5],[-7,11],[0,9.5],[8.5,11],[13,17],[14,25],[17.5,33],[20,31],[22,23],[22.5,4.9],[22,2],[21,1.2],[25,0.88],[32.5,0.74],[38,0.56],[45.5,0.4],[52,0.34],[71.5,0.33],[90,0.32],[95,0.32],[95,0.285],[90,0.29],[77.5,0.3],[58,0.29],[53.5,0.25],[50.5,0.19],[41.5,0.18],[31,0.18],[27,0.2],[24,0.28],[19,0.37],[14.5,0.23],[11,0.12],[10,0.1],[-15.5,0.11],[-18,0.16],[-21.5,0.135],[-22.5,0.08],[-31,0.08],[-32,0.11],[-41,0.115]]},
{"k":"d","id":87,"f":6,"s":6,"pts":[[-20,0.08],[-18.5,0.107],[-15.5,0.08]]},
{"k":"d","id":88,"f":6,"s":6,"pts":[[-47,0.08],[-46,0.1],[-38,0.1],[-34,0.08]]}
],
"dots":[
{"k":"a","p":0.1,"lat":[-72,-68,-64,-60,-56,-52,-48,-44,-40,-36,-32,-28,-24,-20,-16,-12,-8,-4,0,4,8,12,16,20,24,28,32,36,40,44,48,52,56,60,64,68,72,76,80]},
{"k":"a","p":0.147,"lat":[-76,-72,-68,-64,-60,-56,-52,-48,-44,-40,-36,-32,-28,-24,-20,-16,-12,-8,-4,0,4,8,12,16,20,24,28,32,36,40,44,48,52,56,60,64,68,72,76,80]},
{"k":"a","p":0.215,"lat":[-80,-76,-72,-68,-64,-60,-56,-52,-48,-44,-40,-36,-32,-28,-24,-20,-16,-12,-8,-4,0,4,8,12,16,20,24,28,32,36,40,44,48,52,56,60,64,68,72,76,80]},
{"k":"a","p":0.316,"lat":[-80,-76,-68,-64,-60,-56,-52,-48,-44,-40,-36,-32,-20,-16,-12,-8,-4,0,4,8,12,16,20,24,28,32,36,40,44,48,52,56,60,64,68,72,76,80]},
{"k":"a","p":0.464,"lat":[-80,-76,-72,-68,-64,-60,-56,-52,-36,-32,-28,-24,-20,-16,-12,-8,-4,0,4,8,12,16,20,24,28,32,36,40,44,48,64,68,72,76,80]},
{"k":"a","p":0.681,"lat":[-76,-72,-68,-64,-60,-56,-32,-28,-24,-20,-16,-12,-8,-4,0,4,8,12,16,20,24,28,32,36,40]},
{"k":"a","p":1,"lat":[-64,-28,-24,-20,-16,-12,-8,-4,0,4,8,12,16,20,24,28,32,36]},
{"k":"a","p":1.21,"lat":[-24,-20,-16,-12,-8,-4,0,4,8,12,16,20,24,28,32,80]},
{"k":"a","p":1.47,"lat":[-16,-12,-8,-4,0,4,8,12,16,20,24,76,80]},
{"k":"a","p":1.78,"lat":[-16,-12,-8,-4,0,4,8,12,16,20,76,80]},
{"k":"a","p":2.15,"lat":[-16,-12,-8,-4,0,4,8,12,16,20,72,76,80]},
{"k":"a","p":2.61,"lat":[-20,-16,-12,-8,-4,0,4,8,12,16,20,72,76,80]},
{"k":"a","p":3.16,"lat":[-20,-16,-12,-8,-4,0,4,8,12,16,20,72,76,80]},
{"k":"a","p":3.83,"lat":[-20,-16,-12,-8,-4,0,4,8,12,16,20,72,76,80]},
{"k":"a","p":4.64,"lat":[-20,-16,-12,-8,-4,0,4,8,12,16,20,72,76,80]},
{"k":"a","p":5.62,"lat":[-20,-16,-12,-8,-4,0,4,8,12,16,20,24,68,72,76,80]},
{"k":"a","p":6.81,"lat":[-20,-16,-12,-8,-4,0,4,8,12,16,20,24,68,72,76,80]},
{"k":"a","p":8.25,"lat":[-20,-16,-12,-8,-4,0,4,8,12,16,20,24]},
{"k":"a","p":10,"lat":[-20,-16,-12,-8,-4,0,4,8,12,16,20,24]},
{"k":"a","p":12.1,"lat":[-20,-16,-12,-8,-4,0,4,8,12,16,20,24]},
{"k":"a","p":14.7,"lat":[-36,-32,-20,-16,-12,-8,-4,0,4,8,12,16,20,24,48,52,56]},
{"k":"a","p":17.8,"lat":[-40,-36,-32,-20,-16,-12,-8,-4,0,4,8,12,16,20,24,28,48,52,56]},
{"k":"a","p":21.5,"lat":[-40,-36,-32,-20,-16,-12,-8,-4,0,4,8,12,16,20,24,28,44,48,52,56]},
{"k":"a","p":26.1,"lat":[-40,-36,-32,-16,-12,-8,8,12,16,20,24,44,48,52]},
{"k":"a","p":31.6,"lat":[-40,-36,-32,16,20,24,44,48,52]},
{"k":"a","p":38.3,"lat":[-40,-36,-32,44,48,52]},
{"k":"a","p":46.4,"lat":[-44,-40,-36,-32,40,44,48,52]},
{"k":"a","p":56.2,"lat":[-44,-40,-36,40,44,48,52]},
{"k":"a","p":68.1,"lat":[-48,-44,-40,44,48,52]},
{"k":"a","p":82.5,"lat":[-48,-44]},
{"k":"a","p":100,"lat":[-52,-48,-12,-8,-4,0,4,8,12,16,20]},
{"k":"d","p":0.128,"lat":[-62,-60,-58,-56,-54,-52,-50,-48,-46,-44,-42,-40,-38,-36,-34,-32,-30,-28,-26,-24,-22,-20,-18,-16,-14,-12,-10,-8,-6,-4,-2,0,2,4,6,8,10,12,14,16,18,20,26,28,30,32,34,36,38,40,42,44,46,48,50,52,54]},
{"k":"d","p":0.198,"lat":[-70,-68,-66,-64,-62,-60,-58,-56,-54,-52,-50,-48,-46,-44,-42,-40,-38,-36,-34,-32,-30,-28,-26,-24,-22,-20,-18,-16,-14,-12,-10,-8,-6,-4,-2,0,2,4,6,8,10,12,14,16,18,20,22,24,26,28,30,32,34,36,38,40,42,44,46,48,50,52,54,56,58,60,62,64,66,68]},
{"k":"d","p":0.29,"lat":[-76,-74,-72,-70,-68,-66,-64,-62,-60,-58,-56,-54,-52,-50,-48,-46,-44,-42,-40,-38,-36,-34,-32,-30,-28,-26,-24,-22,-20,-18,-16,-14,-12,-10,-8,-6,-4,-2,0,2,4,6,8,10,12,14,16,18,20,22,24,26,28,30,32,34,36,38,40,42,44,46,48,50,52,54,56,58,60,62,64,66,68,70,72,74,76,78,80,82,84,86,88,90]},
{"k":"d","p":0.41,"lat":[-78,-76,-74,-72,-70,-68,-66,-64,-62,-60,-58,-56,-54,-52,-50,-48,-46,-44,-42,-40,-38,-36,-34,-32,-30,-28,-26,-24,-22,-20,-18,-16,-14,-12,-10,-8,-6,-4,-2,0,2,4,6,8,10,12,14,16,18,20,22,24,26,28,30,32,34,36,38,40,42,44,46,48,50,52,54,56,58,60,62,64,66,68,70,72,74,76,78,80,82,84,86,88,90]},
{"k":"d","p":0.552,"lat":[-74,-72,-70,-68,-66,-64,-62,-60,-58,-56,-54,-52,-50,-48,-46,-44,-42,-40,-38,-36,-34,-32,-30,-28,-26,-24,-22,-20,-18,-16,-14,-12,-10,-8,-6,-4,-2,0,2,4,6,8,10,12,14,16,18,20,22,24,26,28,30,32,34,36,38,40,42,44,46,48,50,52,54,56,58,60]},
{"k":"d","p":0.73,"lat":[-66,-64,-62,-60,-58,-56,-54,-38,-36,-34,-32,-30,-28,-26,-24,-22,-20,-18,-16,-14,-12,-10,-8,-6,-4,-2,0,2,4,6,8,10,12,14,16,18,20,22,24,26,28,30,32,34,36,38,40,42,44,46,48,88,90]},
{"k":"d","p":0.955,"lat":[-22,-20,-18,-16,-14,-12,-10,-8,-6,-4,-2,0,2,4,6,8,10,12,14,16,18,20,22,24,26,28,30,32,34,36,38,40,84,86,88,90]},
{"k":"d","p":1.245,"lat":[-22,-20,-18,-16,-14,-12,-10,-8,-6,-4,-2,0,2,4,6,8,10,12,14,16,18,20,22,24,82,84,86,88,90]},
{"k":"d","p":1.61,"lat":[-22,-20,-18,-16,-14,-12,-10,-8,-6,-4,-2,0,2,4,6,8,10,12,14,16,18,20,22,24,26,78,80,82,84,86,88,90]},
{"k":"d","p":2.09,"lat":[-24,-22,-20,-18,-16,-14,-12,-10,-8,-6,-4,-2,0,2,4,6,8,10,12,14,16,18,20,22,24,26,28,74,76,78,80,82,84,86,88,90]},
{"k":"d","p":2.67,"lat":[-24,-22,-20,-18,-16,-14,-12,-10,-8,-6,-4,-2,0,2,4,6,8,10,12,14,16,18,20,22,24,26,28,72,74,76,78,80,82,84,86,88,90]},
{"k":"d","p":3.41,"lat":[-24,-22,-20,-18,-16,-14,-12,-10,-8,-6,-4,-2,0,2,4,6,8,10,12,14,16,18,20,22,24,26,28,70,72,74,76,78,80,82,84,86,88,90]},
{"k":"d","p":4.35,"lat":[-24,-22,-20,-18,-16,-14,-12,-10,-8,-6,-4,-2,0,2,4,6,8,10,12,14,16,18,20,22,24,26,28,66,68,70,72,74,76,78,80,82,84,86,88,90]},
{"k":"d","p":5.47,"lat":[-24,-22,-20,-18,-16,-14,-12,-10,-8,-6,-4,-2,0,2,4,6,8,10,12,14,16,18,20,22,24,26,28,62,64,66,68,70,72,74,76,78,80,82,84,86,88,90]},
{"k":"d","p":6.9,"lat":[-24,-22,-20,-18,-16,-14,-12,-10,-8,-6,-4,-2,0,2,4,6,8,10,12,14,16,18,20,22,24,26,28,60,62,64,66,68,70,72,74,76,78,80,82,84,86,88,90]},
{"k":"d","p":8.6,"lat":[-24,-22,-20,-18,-16,-14,-12,-10,-8,-6,-4,-2,0,2,4,6,8,10,12,14,16,18,20,22,24,26,28,62,64,66,68,70,72,74,76,78,80,82,84,86,88,90]},
{"k":"d","p":10.7,"lat":[-22,-20,-18,-16,-14,-12,-10,-8,-6,-4,-2,0,2,4,6,8,10,12,14,16,18,20,22,24,26,28]},
{"k":"d","p":13.3,"lat":[-22,-20,-18,-16,-14,-12,-10,-8,-6,-4,-2,0,2,4,6,8,10,12,14,16,18,20,22,24,26,28]},
{"k":"d","p":16.5,"lat":[-40,-38,-22,-20,-18,-16,-14,-12,-10,-8,-6,-4,-2,0,2,4,6,8,10,12,14,16,18,20,22,24,26,28]},
{"k":"d","p":20.1,"lat":[-42,-40,-38,-22,-20,-18,-16,-14,-12,-10,-8,-6,-4,-2,0,2,4,6,8,10,12,14,16,18,20,22,24,26,28]},
{"k":"d","p":24.6,"lat":[-42,-40,-38,-22,-20,-18,-16,-14,-12,-10,-8,8,10,12,14,16,18,20,22,24,26,28]},
{"k":"d","p":29.9,"lat":[-42,-40,-38,-36,-22,-20,-18,-16,-14,-12,-10,10,12,14,16,18,20,22,24,26]},
{"k":"d","p":36.1,"lat":[-42,-40,-38,-20,-18,-16,-14,-12,-10,10,12,14,16,18,20,22,24,26]},
{"k":"d","p":43.4,"lat":[-18,-16,-14,-12,12,14,16,18,20,22,24,26]},
{"k":"d","p":51.8,"lat":[14,16,18,20,38]},
{"k":"d","p":61.9,"lat":[32,34,36,38,40,42,44]},
{"k":"d","p":74,"lat":[28,30,32]},
{"k":"d","p":88.3,"lat":[22,24,26,28,30]}
],
"runs":[
{"k":"b","p":0.117,"r":[[-64,-35],[40,90]]},{"k":"b","p":0.162,"r":[[-68,-30],[6,15],[35,90]]},{"k":"b","p":0.219,"r":[[-71,-24],[-12,19],[29,90]]},{"k":"b","p":0.291,"r":[[-90,-87],[-73,-21],[-13,90]]},{"k":"b","p":0.38,"r":[[-90,-84],[-76,-44],[-42,-18],[-13,89]]},{"k":"b","p":0.49,"r":[[-78,-48],[-38,53],[56,72]]},{"k":"b","p":0.627,"r":[[-77,-52],[-36,45]]},{"k":"b","p":0.785,"r":[[-74,-56],[-35,42]]},{"k":"b","p":0.977,"r":[[-69,-61],[-33,38]]},{"k":"b","p":1.19,"r":[[-30,35],[81,90]]},{"k":"b","p":1.46,"r":[[-23,32],[77,90]]},{"k":"b","p":1.76,"r":[[-20,28],[75,90]]},{"k":"b","p":2.1,"r":[[-20,22],[73,90]]},{"k":"b","p":2.49,"r":[[-20,22],[72,90]]},{"k":"b","p":2.95,"r":[[-20,22],[70,90]]},{"k":"b","p":3.44,"r":[[-21,22],[70,90]]},{"k":"b","p":4,"r":[[-21,23],[69,90]]},{"k":"b","p":4.62,"r":[[-22,23],[68,90]]},{"k":"b","p":5.3,"r":[[-22,23],[67,90]]},{"k":"b","p":6.04,"r":[[-22,25],[67,90]]},{"k":"b","p":6.89,"r":[[-22,25],[68,89]]},{"k":"b","p":7.8,"r":[[-22,25]]},{"k":"b","p":8.81,"r":[[-22,26]]},{"k":"b","p":9.9,"r":[[-22,26]]},{"k":"b","p":11,"r":[[-22,26]]},{"k":"b","p":12.3,"r":[[-22,27]]},{"k":"b","p":13.6,"r":[[-37,-33],[-22,27],[51,55]]},{"k":"b","p":15.1,"r":[[-39,-31],[-22,28],[48,56]]},{"k":"b","p":16.6,"r":[[-40,-31],[-22,28],[47,56]]},{"k":"b","p":18.2,"r":[[-40,-31],[-21,29],[46,56]]},{"k":"b","p":20,"r":[[-41,-30],[-21,29],[46,56]]},{"k":"b","p":21.9,"r":[[-42,-30],[-20,29],[45,55]]},{"k":"b","p":23.8,"r":[[-42,-30],[-20,-5],[4,29],[45,55]]},{"k":"b","p":25.8,"r":[[-42,-29],[-19,-7],[7,27],[44,55]]},{"k":"b","p":28,"r":[[-42,-29],[-18,-9],[8,27],[44,54]]},{"k":"b","p":30.4,"r":[[-42,-29],[-15,-12],[10,26],[43,54]]},{"k":"b","p":32.7,"r":[[-43,-29],[13,26],[43,54]]},{"k":"b","p":35.2,"r":[[-43,-29],[17,24],[42,54]]},{"k":"b","p":38,"r":[[-43,-29],[42,54]]},{"k":"b","p":40.9,"r":[[-44,-29],[42,54]]},{"k":"b","p":44,"r":[[-44,-30],[41,53]]},{"k":"b","p":46.8,"r":[[-44,-31],[40,53]]},{"k":"b","p":49.9,"r":[[-45,-31],[40,53]]},{"k":"b","p":53.1,"r":[[-45,-34],[40,53]]},{"k":"b","p":56.4,"r":[[-46,-34],[40,53]]},{"k":"b","p":59.7,"r":[[-47,-36],[43,53]]},{"k":"b","p":63.5,"r":[[-47,-38],[43,52]]},{"k":"b","p":67.1,"r":[[-48,-40],[44,52]]},{"k":"b","p":71,"r":[[-48,-42],[46,52]]},{"k":"b","p":74.6,"r":[[-49,-42],[47,52]]},{"k":"b","p":78.6,"r":[[-49,-44],[47,51]]},{"k":"b","p":82.8,"r":[[-50,-44],[48,51]]},{"k":"b","p":87.1,"r":[[-50,-46],[-1,15],[49,51]]},{"k":"b","p":91.6,"r":[[-50,-46],[-10,18],[49,50]]},{"k":"b","p":95.5,"r":[[-50,-46],[-10,18],[50,50.2]]},{"k":"b","p":100,"r":[[-50,-46]]},
{"k":"c","p":0.1,"r":[[-73,90]]},{"k":"c","p":0.3,"r":[[-90,86]]},{"k":"c","p":0.4,"r":[[-90,81]]},{"k":"c","p":0.5,"r":[[-86,-51.5],[-38.5,48]]},{"k":"c","p":0.7,"r":[[-73.5,-58],[-33.5,41]]},{"k":"c","p":1,"r":[[-31,37],[86,90]]},{"k":"c","p":2,"r":[[-19.6,22],[74,90]]},{"k":"c","p":3,"r":[[-21,22],[74,90]]},{"k":"c","p":4,"r":[[-22,23.5],[73,90]]},{"k":"c","p":5,"r":[[-22,23.5],[70.5,90]]},{"k":"c","p":7,"r":[[-23.4,26]]},{"k":"c","p":10,"r":[[-23.4,27]]},{"k":"c","p":20,"r":[[-41,-30.6],[-20.6,28],[46,56]]},{"k":"c","p":30,"r":[[-42,-29.4],[-13.3,-13.1],[10.7,25.7],[43,53]]},{"k":"c","p":40,"r":[[-43.4,-29.4],[42,53]]},{"k":"c","p":50,"r":[[-44.5,-31.7],[40.7,53]]},{"k":"c","p":70,"r":[[-48.3,-42],[45.7,52]]},{"k":"c","p":100,"r":[[-51,-47],[-10.6,21],[49.5,51]]}
]
},
"config":{"view":{"stroke":null},
"axis":{"domainColor":"#404040","domainWidth":2,"tickColor":"#404040","tickWidth":2,"tickSize":-12,"labelFont":"Liberation Sans","labelFontSize":40,"labelColor":"#262626","titleFont":"Liberation Sans","titleFontSize":42,"titleFontWeight":"normal","titleColor":"#262626","grid":false,"labelOverlap":false,"labelBound":false,"labelFlush":false,"zindex":1},
"axisLeft":{"labelPadding":28,"titlePadding":10},"axisBottom":{"labelPadding":30,"titlePadding":15},"axisTop":{"labels":false},"axisRight":{"labels":false},
"title":{"font":"Liberation Sans","fontSize":43,"fontWeight":"normal","color":"#262626","offset":-15}},
"spacing":83,
"hconcat":[
{"columns":2,"spacing":{"row":161,"column":125},"bounds":"flush","concat":[
{"width":1197,"height":930,"title":"(a) 2005-2020 MLS T ratio of PSD","resolve":{"axis":{"x":"independent","y":"independent"}},"layer":[
{"data":{"name":"base"},"transform":[{"filter":"datum.k=='a'"}],"mark":{"type":"rect","color":"#3B27A4"},"encoding":{"x":{"field":"x0","type":"quantitative","scale":{"domain":[-90,90],"nice":false,"zero":false},"axis":{"values":[-90,-80,-70,-60,-50,-40,-30,-20,-10,0,10,20,30,40,50,60,70,80,90],"labelExpr":"''+datum.value","title":null}},"x2":{"field":"x1"},"y":{"field":"p0","type":"quantitative","scale":{"type":"log","domain":[0.1,100],"reverse":true,"nice":false},"axis":{"values":[0.1,0.2,0.3,0.5,0.7,1,1.5,2,3,5,7,10,15,20,30,50,70,100],"labelExpr":"''+datum.value","title":"Pressure [hPa]"}},"y2":{"field":"p1"}}},
{"data":{"name":"contours"},"transform":[{"filter":"datum.k=='a'"},{"flatten":["pts"]}],"mark":{"type":"line","interpolate":"cardinal-closed","tension":0.4,"clip":true,"strokeWidth":8,"strokeJoin":"round"},"encoding":{"x":{"field":"pts[0]","type":"quantitative","scale":{"domain":[-90,90],"nice":false,"zero":false},"axis":null},"y":{"field":"pts[1]","type":"quantitative","scale":{"type":"log","domain":[0.1,100],"reverse":true,"nice":false},"axis":null},"detail":{"field":"id"},"order":{"value":null},"fill":{"field":"f","type":"ordinal","scale":{"domain":[0,1,2,3,4,5,6,7,8,9],"range":["#3B27A4","#4646E6","#3C6CFA","#2796E6","#07B4D2","#33C5A1","#84CC58","#DCB92A","#FCCC2C","#FAF916"]},"legend":null},"stroke":{"field":"s","type":"ordinal","scale":{"domain":[0,1,2,3,4,5,6,7,8,9],"range":["#3B27A4","#4646E6","#3C6CFA","#2796E6","#07B4D2","#33C5A1","#84CC58","#DCB92A","#FCCC2C","#FAF916"]},"legend":null}}},
{"data":{"name":"mask"},"mark":{"type":"rect","color":"white"},"encoding":{"x":{"field":"x0","type":"quantitative","scale":{"domain":[-90,90],"nice":false,"zero":false},"axis":null},"x2":{"field":"x1"},"y":{"field":"p0","type":"quantitative","scale":{"type":"log","domain":[0.1,100],"reverse":true,"nice":false},"axis":null},"y2":{"field":"p1"}}},
{"data":{"name":"dots"},"transform":[{"filter":"datum.k=='a'"},{"flatten":["lat"]}],"mark":{"type":"circle","size":64,"color":"black","opacity":1},"encoding":{"x":{"field":"lat","type":"quantitative","scale":{"domain":[-90,90],"nice":false,"zero":false},"axis":null},"y":{"field":"p","type":"quantitative","scale":{"type":"log","domain":[0.1,100],"reverse":true,"nice":false},"axis":null}}},
{"data":{"name":"base"},"transform":[{"filter":"datum.k=='a'"}],"mark":{"type":"rect","opacity":0},"encoding":{"x":{"field":"x0","type":"quantitative","scale":{"domain":[-90,90],"nice":false,"zero":false},"axis":{"orient":"top","values":[-90,-80,-70,-60,-50,-40,-30,-20,-10,0,10,20,30,40,50,60,70,80,90],"title":null}},"x2":{"field":"x1"},"y":{"field":"p0","type":"quantitative","scale":{"type":"log","domain":[0.1,100],"reverse":true,"nice":false},"axis":{"orient":"right","values":[0.1,0.2,0.3,0.5,0.7,1,1.5,2,3,5,7,10,15,20,30,50,70,100],"title":null}},"y2":{"field":"p1"}}}
]},
{"width":1197,"height":930,"title":"(b) 2005-2020 ERA5 T ratio of PSD","resolve":{"axis":{"x":"independent","y":"independent"}},"layer":[
{"data":{"name":"base"},"transform":[{"filter":"datum.k=='b'"}],"mark":{"type":"rect","color":"#3B27A4"},"encoding":{"x":{"field":"x0","type":"quantitative","scale":{"domain":[-90,90],"nice":false,"zero":false},"axis":{"values":[-90,-80,-70,-60,-50,-40,-30,-20,-10,0,10,20,30,40,50,60,70,80,90],"labelExpr":"''+datum.value","title":null}},"x2":{"field":"x1"},"y":{"field":"p0","type":"quantitative","scale":{"type":"log","domain":[0.1,100],"reverse":true,"nice":false},"axis":{"values":[0.1,0.2,0.3,0.5,0.7,1,1.5,2,3,5,7,10,15,20,30,50,70,100],"labelExpr":"''+datum.value","title":null}},"y2":{"field":"p1"}}},
{"data":{"name":"contours"},"transform":[{"filter":"datum.k=='b'"},{"flatten":["pts"]}],"mark":{"type":"line","interpolate":"cardinal-closed","tension":0.4,"clip":true,"strokeWidth":8,"strokeJoin":"round"},"encoding":{"x":{"field":"pts[0]","type":"quantitative","scale":{"domain":[-90,90],"nice":false,"zero":false},"axis":null},"y":{"field":"pts[1]","type":"quantitative","scale":{"type":"log","domain":[0.1,100],"reverse":true,"nice":false},"axis":null},"detail":{"field":"id"},"order":{"value":null},"fill":{"field":"f","type":"ordinal","scale":{"domain":[0,1,2,3,4,5,6,7,8,9],"range":["#3B27A4","#4646E6","#3C6CFA","#2796E6","#07B4D2","#33C5A1","#84CC58","#DCB92A","#FCCC2C","#FAF916"]},"legend":null},"stroke":{"field":"s","type":"ordinal","scale":{"domain":[0,1,2,3,4,5,6,7,8,9],"range":["#3B27A4","#4646E6","#3C6CFA","#2796E6","#07B4D2","#33C5A1","#84CC58","#DCB92A","#FCCC2C","#FAF916"]},"legend":null}}},
{"data":{"name":"runs"},"transform":[{"filter":"datum.k=='b'"},{"flatten":["r"]}],"mark":{"type":"rule","strokeCap":"round","strokeDash":[0,6.65],"strokeWidth":6.5,"color":"black"},"encoding":{"x":{"field":"r[0]","type":"quantitative","scale":{"domain":[-90,90],"nice":false,"zero":false},"axis":null},"x2":{"field":"r[1]"},"y":{"field":"p","type":"quantitative","scale":{"type":"log","domain":[0.1,100],"reverse":true,"nice":false},"axis":null}}},
{"data":{"name":"base"},"transform":[{"filter":"datum.k=='b'"}],"mark":{"type":"rect","opacity":0},"encoding":{"x":{"field":"x0","type":"quantitative","scale":{"domain":[-90,90],"nice":false,"zero":false},"axis":{"orient":"top","values":[-90,-80,-70,-60,-50,-40,-30,-20,-10,0,10,20,30,40,50,60,70,80,90],"title":null}},"x2":{"field":"x1"},"y":{"field":"p0","type":"quantitative","scale":{"type":"log","domain":[0.1,100],"reverse":true,"nice":false},"axis":{"orient":"right","values":[0.1,0.2,0.3,0.5,0.7,1,1.5,2,3,5,7,10,15,20,30,50,70,100],"title":null}},"y2":{"field":"p1"}}}
]},
{"width":1197,"height":930,"title":"(c) 2005-2020 MERRA2 T ratio of PSD","resolve":{"axis":{"x":"independent","y":"independent"}},"layer":[
{"data":{"name":"base"},"transform":[{"filter":"datum.k=='c'"}],"mark":{"type":"rect","color":"#3B27A4"},"encoding":{"x":{"field":"x0","type":"quantitative","scale":{"domain":[-90,90],"nice":false,"zero":false},"axis":{"values":[-90,-80,-70,-60,-50,-40,-30,-20,-10,0,10,20,30,40,50,60,70,80,90],"labelExpr":"''+datum.value","title":"Lat [deg]"}},"x2":{"field":"x1"},"y":{"field":"p0","type":"quantitative","scale":{"type":"log","domain":[0.1,100],"reverse":true,"nice":false},"axis":{"values":[0.1,0.2,0.3,0.5,0.7,1,1.5,2,3,5,7,10,15,20,30,50,70,100],"labelExpr":"''+datum.value","title":"Pressure [hPa]"}},"y2":{"field":"p1"}}},
{"data":{"name":"contours"},"transform":[{"filter":"datum.k=='c'"},{"flatten":["pts"]}],"mark":{"type":"line","interpolate":"cardinal-closed","tension":0.4,"clip":true,"strokeWidth":8,"strokeJoin":"round"},"encoding":{"x":{"field":"pts[0]","type":"quantitative","scale":{"domain":[-90,90],"nice":false,"zero":false},"axis":null},"y":{"field":"pts[1]","type":"quantitative","scale":{"type":"log","domain":[0.1,100],"reverse":true,"nice":false},"axis":null},"detail":{"field":"id"},"order":{"value":null},"fill":{"field":"f","type":"ordinal","scale":{"domain":[0,1,2,3,4,5,6,7,8,9],"range":["#3B27A4","#4646E6","#3C6CFA","#2796E6","#07B4D2","#33C5A1","#84CC58","#DCB92A","#FCCC2C","#FAF916"]},"legend":null},"stroke":{"field":"s","type":"ordinal","scale":{"domain":[0,1,2,3,4,5,6,7,8,9],"range":["#3B27A4","#4646E6","#3C6CFA","#2796E6","#07B4D2","#33C5A1","#84CC58","#DCB92A","#FCCC2C","#FAF916"]},"legend":null}}},
{"data":{"name":"runs"},"transform":[{"filter":"datum.k=='c'"},{"flatten":["r"]}],"mark":{"type":"rule","strokeCap":"round","strokeDash":[0,9.31],"strokeWidth":9,"color":"black"},"encoding":{"x":{"field":"r[0]","type":"quantitative","scale":{"domain":[-90,90],"nice":false,"zero":false},"axis":null},"x2":{"field":"r[1]"},"y":{"field":"p","type":"quantitative","scale":{"type":"log","domain":[0.1,100],"reverse":true,"nice":false},"axis":null}}},
{"data":{"name":"base"},"transform":[{"filter":"datum.k=='c'"}],"mark":{"type":"rect","opacity":0},"encoding":{"x":{"field":"x0","type":"quantitative","scale":{"domain":[-90,90],"nice":false,"zero":false},"axis":{"orient":"top","values":[-90,-80,-70,-60,-50,-40,-30,-20,-10,0,10,20,30,40,50,60,70,80,90],"title":null}},"x2":{"field":"x1"},"y":{"field":"p0","type":"quantitative","scale":{"type":"log","domain":[0.1,100],"reverse":true,"nice":false},"axis":{"orient":"right","values":[0.1,0.2,0.3,0.5,0.7,1,1.5,2,3,5,7,10,15,20,30,50,70,100],"title":null}},"y2":{"field":"p1"}}}
]},
{"width":1197,"height":930,"title":"(d) 2005-2020 control run T ration of PSD","resolve":{"axis":{"x":"independent","y":"independent"}},"layer":[
{"data":{"name":"base"},"transform":[{"filter":"datum.k=='d'"}],"mark":{"type":"rect","color":"#3B27A4"},"encoding":{"x":{"field":"x0","type":"quantitative","scale":{"domain":[-90,90],"nice":false,"zero":false},"axis":{"values":[-90,-80,-70,-60,-50,-40,-30,-20,-10,0,10,20,30,40,50,60,70,80,90],"labelExpr":"''+datum.value","title":"Lat [deg]"}},"x2":{"field":"x1"},"y":{"field":"p0","type":"quantitative","scale":{"type":"log","domain":[0.1,100],"reverse":true,"nice":false},"axis":{"values":[0.1,0.2,0.3,0.5,0.7,1,1.5,2,3,5,7,10,15,20,30,50,70,100],"labelExpr":"''+datum.value","title":null}},"y2":{"field":"p1"}}},
{"data":{"name":"contours"},"transform":[{"filter":"datum.k=='d'"},{"flatten":["pts"]}],"mark":{"type":"line","interpolate":"cardinal-closed","tension":0.4,"clip":true,"strokeWidth":8,"strokeJoin":"round"},"encoding":{"x":{"field":"pts[0]","type":"quantitative","scale":{"domain":[-90,90],"nice":false,"zero":false},"axis":null},"y":{"field":"pts[1]","type":"quantitative","scale":{"type":"log","domain":[0.1,100],"reverse":true,"nice":false},"axis":null},"detail":{"field":"id"},"order":{"value":null},"fill":{"field":"f","type":"ordinal","scale":{"domain":[0,1,2,3,4,5,6,7,8,9],"range":["#3B27A4","#4646E6","#3C6CFA","#2796E6","#07B4D2","#33C5A1","#84CC58","#DCB92A","#FCCC2C","#FAF916"]},"legend":null},"stroke":{"field":"s","type":"ordinal","scale":{"domain":[0,1,2,3,4,5,6,7,8,9],"range":["#3B27A4","#4646E6","#3C6CFA","#2796E6","#07B4D2","#33C5A1","#84CC58","#DCB92A","#FCCC2C","#FAF916"]},"legend":null}}},
{"data":{"name":"dots"},"transform":[{"filter":"datum.k=='d'"},{"flatten":["lat"]}],"mark":{"type":"circle","size":64,"color":"black","opacity":1},"encoding":{"x":{"field":"lat","type":"quantitative","scale":{"domain":[-90,90],"nice":false,"zero":false},"axis":null},"y":{"field":"p","type":"quantitative","scale":{"type":"log","domain":[0.1,100],"reverse":true,"nice":false},"axis":null}}},
{"data":{"name":"base"},"transform":[{"filter":"datum.k=='d'"}],"mark":{"type":"rect","opacity":0},"encoding":{"x":{"field":"x0","type":"quantitative","scale":{"domain":[-90,90],"nice":false,"zero":false},"axis":{"orient":"top","values":[-90,-80,-70,-60,-50,-40,-30,-20,-10,0,10,20,30,40,50,60,70,80,90],"title":null}},"x2":{"field":"x1"},"y":{"field":"p0","type":"quantitative","scale":{"type":"log","domain":[0.1,100],"reverse":true,"nice":false},"axis":{"orient":"right","values":[0.1,0.2,0.3,0.5,0.7,1,1.5,2,3,5,7,10,15,20,30,50,70,100],"title":null}},"y2":{"field":"p1"}}}
]}
]},
{"width":96,"height":2021,"data":{"name":"colorbar"},"mark":{"type":"rect"},"encoding":{"y":{"field":"v0","type":"quantitative","scale":{"domain":[-0.0286,1.0621],"nice":false,"zero":false},"axis":{"orient":"right","values":[0,0.1,0.2,0.3,0.4,0.5,0.6,0.7,0.8,0.9,1],"labelExpr":"''+datum.value","labels":true,"labelFontSize":36,"labelPadding":28,"domain":false,"title":null}},"y2":{"field":"v1"},"fill":{"field":"c","type":"ordinal","scale":{"domain":[0,1,2,3,4,5,6,7,8,9],"range":["#3B27A4","#4646E6","#3C6CFA","#2796E6","#07B4D2","#33C5A1","#84CC58","#DCB92A","#FCCC2C","#FAF916"]},"legend":null}}}
]}
